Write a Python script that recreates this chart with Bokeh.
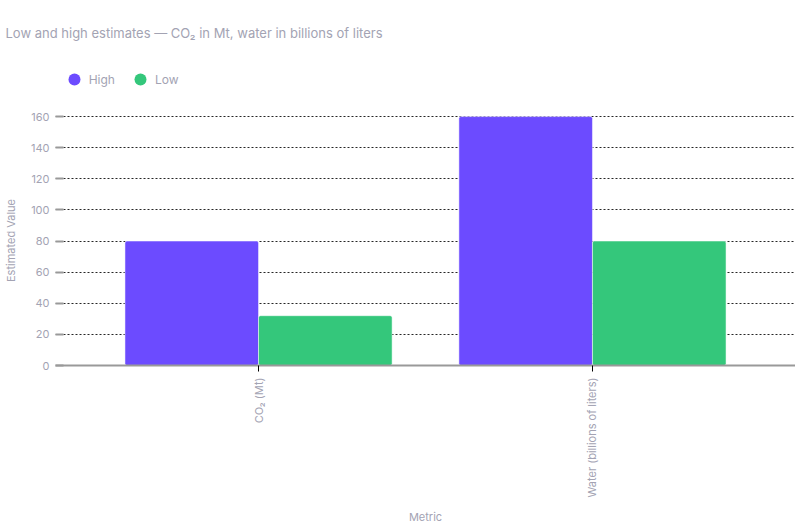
from math import pi

from bokeh.embed import file_html
from bokeh.layouts import column
from bokeh.models import ColumnDataSource, FactorRange, Legend, LegendItem
from bokeh.plotting import figure
from bokeh.resources import INLINE
from bokeh.transform import dodge

# data
metrics = ["CO₂ (Mt)", "Water (billions of liters)"]
high = [80, 160]
low = [32, 80]
y_ticks = [0, 20, 40, 60, 80, 100, 120, 140, 160]

HIGH_COLOR = "#6c4bff"
LOW_COLOR = "#34c77b"
TEXT_GRAY = "#a3a3b3"
FONT = "Inter"

source = ColumnDataSource(data=dict(metric=metrics, high=high, low=low))
x_range = FactorRange(*metrics, range_padding=0.108, range_padding_units="absolute")

# --- header: title and legend ---
head = figure(x_range=x_range, y_range=(0, 161),
              frame_width=740, frame_height=45,
              output_backend="svg", toolbar_location=None,
              x_axis_type=None, y_axis_type=None,
              title="Low and high estimates — CO₂ in Mt, water in billions of liters",
              min_border_left=47, min_border_right=0,
              min_border_top=0, min_border_bottom=0)
head.outline_line_color = None
head.xgrid.grid_line_color = None
head.ygrid.grid_line_color = None
head.title.text_font = FONT
head.title.text_font_size = "13px"
head.title.text_font_style = "normal"
head.title.text_color = TEXT_GRAY
head.title.offset = -50
head.title.standoff = 44

# round legend markers: zero-size scatters on the same data, only the legend shows them
r_high = head.scatter(x=dodge("metric", -0.2, range=x_range), y="high", source=source,
                      marker="circle", size=0, fill_color=HIGH_COLOR, line_color=None)
r_low = head.scatter(x=dodge("metric", 0.2, range=x_range), y="low", source=source,
                     marker="circle", size=0, fill_color=LOW_COLOR, line_color=None)
legend = Legend(
    items=[LegendItem(label="High", renderers=[r_high], index=0),
           LegendItem(label="Low", renderers=[r_low], index=0)],
    orientation="horizontal",
    location=(43, 13),
    label_text_font=FONT,
    label_text_font_size="12px",
    label_text_color=TEXT_GRAY,
    label_height=30,
    glyph_width=30,
    glyph_height=30,
    spacing=10,
    label_standoff=-5,
    border_line_color=None,
    background_fill_alpha=0,
    margin=0,
    padding=0,
)
head.add_layout(legend, "center")

# --- main bar chart ---
p = figure(
    x_range=x_range,
    y_range=(0, 160.7),
    frame_width=740,
    frame_height=250,
    output_backend="svg",
    toolbar_location=None,
    min_border_left=47,
    min_border_right=0,
    min_border_top=8,
    min_border_bottom=0,
)

p.vbar(x=dodge("metric", -0.2, range=x_range), top="high", width=0.4,
       source=source, fill_color=HIGH_COLOR, line_color="white", line_width=0.5,
       border_radius=2)
p.vbar(x=dodge("metric", 0.2, range=x_range), top="low", width=0.4,
       source=source, fill_color=LOW_COLOR, line_color="white", line_width=0.5,
       border_radius=2)

p.outline_line_color = None
p.background_fill_color = "white"

# grid
p.xgrid.grid_line_color = None
p.ygrid.grid_line_color = "black"
p.ygrid.grid_line_dash = "2 2"
p.ygrid.grid_line_alpha = 0.85
p.ygrid.ticker = y_ticks

# y axis
p.yaxis.ticker = y_ticks
p.yaxis.axis_label = "Estimated Value"
p.yaxis.axis_line_color = None
p.yaxis.major_tick_in = 8
p.yaxis.major_tick_out = 0
p.yaxis.major_tick_line_color = "#999999"
p.yaxis.major_tick_line_width = 2
p.yaxis.minor_tick_line_color = None
p.yaxis.major_label_standoff = 6

# x axis
p.xaxis.axis_label = "Metric"
p.xaxis.axis_line_color = "#999999"
p.xaxis.axis_line_width = 2
p.xaxis.major_tick_out = 6
p.xaxis.major_tick_in = 0
p.xaxis.major_tick_line_color = "black"
p.xaxis.major_label_orientation = pi / 2
p.xaxis.major_label_standoff = 6
p.xaxis.axis_label_standoff = 10

for ax in (p.xaxis, p.yaxis):
    ax.major_label_text_font = FONT
    ax.major_label_text_font_size = "11px"
    ax.major_label_text_color = TEXT_GRAY
    ax.axis_label_text_font = FONT
    ax.axis_label_text_font_size = "11px"
    ax.axis_label_text_font_style = "normal"
    ax.axis_label_text_color = TEXT_GRAY
p.yaxis.axis_label_standoff = 10

layout = column(head, p, spacing=0)
open("out.html", "w").write(file_html(layout, INLINE))
